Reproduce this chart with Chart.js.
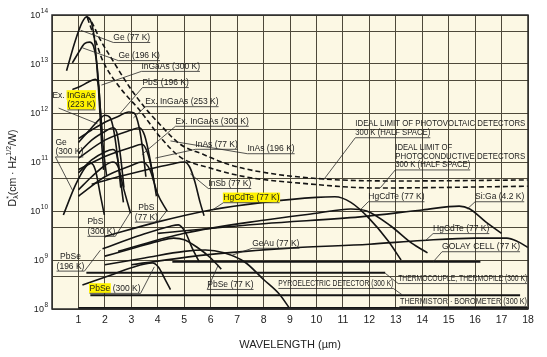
<!DOCTYPE html>
<html><head><meta charset="utf-8">
<script src="https://cdn.jsdelivr.net/npm/chart.js@4"></script>
<style>html,body{margin:0;padding:0;background:#fff}canvas{display:block}</style>
</head><body>
<canvas id="c" width="547" height="357"></canvas>
<script>
// ---- tick labels / grid ----
const wavelengthTicks = [0,1,2,3,4,5,6,7,8,9,10,11,12,13,14,15,16,17,18];
const decadeExponents = [8,9,10,11,12,13,14];
const gridValues = [1e8,4.5e8,1e9,4.5e9,1e10,4.5e10,1e11,4.5e11,1e12,4.5e12,1e13,4.5e13,1e14];

// ---- series: [wavelength µm, D* (cm·Hz^1/2/W)] ----
const idealPV = [[1.30,9.5e13],[1.45,7.9e13],[1.83,3.1e13],[2.29,1.2e13],[2.93,3.4e12],[3.49,1.33e12],[4.10,5.7e11],[4.85,2.3e11],[5.69,1.45e11],[6.63,9.1e10],[7.88,6.3e10],[10.26,4.5e10],[13.16,4.1e10],[18.0,4.3e10]];
const idealPC = [[1.34,8.7e13],[1.64,3.1e13],[1.91,1.2e13],[2.55,3.4e12],[3.31,1.15e12],[4.10,3.2e11],[4.85,1.26e11],[5.99,7.5e10],[7.39,4.9e10],[9.39,3.7e10],[12.30,2.95e10],[18.0,3.2e10]];
const ge77 = [[0.55,7.3e12],[0.89,3.1e13],[1.15,7.2e13],[1.30,9.1e13],[1.45,7.9e13],[1.61,3.1e13],[1.76,3.0e12],[1.87,2.8e11],[1.95,6.9e10]];
const ge196 = [[0.77,1.05e13],[1.0,1.7e13],[1.23,2.6e13],[1.42,2.8e13],[1.57,2.3e13],[1.72,7.6e12],[1.83,1.15e12],[1.95,1.7e11],[2.06,5.4e10]];
const ingaas300 = [[0.77,3.0e12],[1.08,3.5e12],[1.38,4.3e12],[1.64,4.9e12],[1.76,3.7e12],[1.83,1.15e12],[1.91,2.8e11]];
const pbs196 = [[1.0,3e11],[1.5,4.5e11],[2.0,6.5e11],[2.5,8.5e11],[2.9,1.05e12],[3.1,1.0e12],[3.3,5e11],[3.45,1.5e11],[3.55,5e10]];
const exInGaAs223 = [[1.0,2.5e11],[1.5,5e11],[1.8,7.5e11],[2.0,9e11],[2.2,8e11],[2.35,4e11],[2.5,1e11],[2.6,3e10]];
const exInGaAs253 = [[1.0,1.5e11],[1.5,2.8e11],[2.0,4.2e11],[2.3,5e11],[2.45,4e11],[2.6,1.2e11],[2.72,3e10]];
const exInGaAs300 = [[1.0,6e10],[1.5,1.1e11],[2.0,1.6e11],[2.3,1.8e11],[2.45,1.4e11],[2.6,4e10],[2.7,1.5e10]];
const ge300 = [[0.43,8.3e9],[0.89,3.4e10],[1.27,7.9e10],[1.45,9.6e10],[1.64,6.9e10],[1.83,2.1e10],[1.98,8.3e9]];
const pbs300 = [[1.0,2.7e10],[1.5,5e10],[2.0,8.5e10],[2.3,1e11],[2.5,8e10],[2.7,3e10],[2.97,9e9]];
const pbs77 = [[1.0,2e10],[2.0,5e10],[3.0,8.5e10],[3.4,1e11],[3.7,7e10],[4.0,2.2e10],[4.35,1e10]];
const inas77 = [[1.0,1.2e11],[2.0,2.8e11],[3.0,4.5e11],[3.3,5e11],[3.5,3.5e11],[3.7,1.2e11],[3.85,4e10]];
const inas196 = [[1.0,7e10],[2.0,1.3e11],[3.0,2e11],[3.4,2.3e11],[3.6,1.6e11],[3.8,6e10],[3.95,2e10]];
const insb77 = [[1.5,3.5e10],[2.5,5e10],[3.5,6.8e10],[4.5,9e10],[5.0,1e11],[5.2,8e10],[5.4,4e10],[5.6,1.5e10],[5.75,8e9]];
const hgcdte77a = [[2.0,3e9],[4.0,6e9],[6.0,1.05e10],[8.0,1.5e10],[10.0,1.9e10],[10.7,1.95e10],[11.3,1.5e10],[12.0,7e9],[12.7,2.5e9],[13.2,1e9]];
const hgcdte77b = [[2.5,1.5e9],[5.0,3.5e9],[8.0,6.5e9],[10.0,9e9],[11.3,1.1e10],[11.9,1e10],[12.8,5e9],[13.6,2.2e9],[14.2,1.4e9]];
const siga42 = [[4.0,3.5e9],[8.0,5.5e9],[11.65,7.6e9],[14.0,1.05e10],[15.4,1.26e10],[15.8,1.1e10],[16.4,6e9],[17.0,3.5e9]];
const hgcdte77c = [[3.0,8e8],[6.0,1.3e9],[9.0,1.75e9],[12.0,2.1e9],[14.0,2.5e9],[16.0,2.8e9],[17.2,2.8e9],[17.6,2.4e9],[18.0,1.8e9]];
const golay = [[4.55,9.2e8],[16.2,9.2e8]];
const thermocouple = [[1.3,5.5e8],[12.6,5.5e8]];
const pyroelectric = [[1.45,1.9e8],[17.7,1.9e8]];
const thermistor = [[1.0,1.03e8],[18.0,1.03e8]];
const pbse300 = [[1.15,3.1e8],[2.21,4.9e8],[2.97,6.9e8],[3.8,8.7e8],[4.02,7.2e8],[4.29,3.9e8],[4.48,2.5e8]];
const pbse196 = [[1.91,1.7e9],[3.34,3.2e9],[4.48,4.9e9],[4.78,5.2e9],[5.04,3.7e9],[5.31,1.7e9],[5.57,9.1e8]];
const pbse77 = [[2.0,1.2e9],[3.0,1.7e9],[4.0,2.4e9],[4.6,2.8e9],[5.0,2.6e9],[5.5,1.8e9],[6.0,1.1e9],[6.4,6.5e8]];
const geau77 = [[2.0,8e8],[3.5,1.1e9],[5.0,1.5e9],[5.8,1.6e9],[6.5,1.4e9],[7.3,9e8],[8.0,4e8],[8.6,2e8],[9.0,1e8]];

const seriesList = [
  {d:idealPV, dash:true},{d:idealPC, dash:true},
  {d:ge77},{d:ge196},{d:ingaas300},{d:pbs196},{d:exInGaAs223},{d:exInGaAs253},{d:exInGaAs300},
  {d:ge300},{d:pbs300},{d:pbs77},{d:inas77},{d:inas196},{d:insb77},
  {d:hgcdte77a},{d:hgcdte77b},{d:siga42},{d:hgcdte77c},
  {d:golay,w:2},{d:thermocouple,w:2},{d:pyroelectric,w:2},{d:thermistor,w:2.5},
  {d:pbse300},{d:pbse196},{d:pbse77},{d:geau77}
];

// ---- text annotations (anchor in wavelength / log10 D*) ----
const annotations = [
  {lines:['Ge (77 K)'], x:2.32, e:13.49, to:[1.08,13.69]},
  {lines:['Ge (196 K)'], x:2.51, e:13.12, to:[1.15,13.33]},
  {lines:['InGaAs (300 K)'], x:3.38, e:12.90, to:[1.87,12.57]},
  {lines:['PbS (196 K)'], x:3.42, e:12.57, to:[2.59,12.0]},
  {lines:['Ex. InGaAs (253 K)'], x:3.53, e:12.18, to:[3.08,11.90]},
  {lines:['Ex. InGaAs (300 K)'], x:4.67, e:11.78, to:[3.4,11.15]},
  {lines:['Ex. {InGaAs}','{(223 K)}'], x:1.64, e:12.31, align:'right', from:[0.25,12.10], to:[1.72,11.78]},
  {lines:['Ge','(300 K)'], x:0.13, e:11.35, to:[0.77,10.43]},
  {lines:['InAs (77 K)'], x:5.42, e:11.31, to:[3.91,11.08]},
  {lines:['InAs (196 K)'], x:7.39, e:11.22, to:[4.48,11.43]},
  {lines:['InSb (77 K)'], x:5.91, e:10.51, to:[5.23,10.76]},
  {lines:['{HgCdTe (77 K)}'], x:6.48, e:10.22, to:[6.06,10.02]},
  {lines:['HgCdTe (77 K)'], x:11.96, e:10.24, to:[11.69,10.04]},
  {lines:['Si:Ga (4.2 K)'], x:16.0, e:10.24, to:[15.70,10.04]},
  {lines:['HgCdTe (77 K)'], x:14.41, e:9.59, to:[14.11,9.39]},
  {lines:['GOLAY CELL (77 K)'], w:[78], x:14.75, e:9.22, to:[14.41,8.96]},
  {lines:['GeAu (77 K)'], x:7.57, e:9.29, to:[6.82,9.10]},
  {lines:['PbSe (77 K)'], x:5.87, e:8.45, to:[6.29,8.90]},
  {lines:['PYROELECTRIC DETECTOR (300 K)'], w:[115], x:8.56, e:8.47, side:'r', to:[13.24,8.29]},
  {lines:['THERMOCOUPLE, THERMOPILE (300 K)'], w:[129], x:13.09, e:8.57, to:[12.60,8.73]},
  {lines:['THERMISTOR \u00B7 BOROMETER (300 K)'], w:[127], x:13.16, e:8.10, to:[13.01,8.0]},
  {lines:['PbS','(300 K)'], x:1.34, e:9.73, side:'r', to:[2.97,9.98]},
  {lines:['PbS','(77 K)'], x:3.57, e:10.02, align:'center', side:'r', to:[4.36,10.02]},
  {lines:['PbSe','(196 K)'], x:0.70, e:9.02, align:'center', side:'r', to:[1.83,9.20]},
  {lines:['{PbSe} (300 K)'], x:1.42, e:8.37, side:'r', to:[3.87,8.86]},
  {lines:['IDEAL LIMIT OF PHOTOVOLTAIC DETECTORS','300 K (HALF SPACE)'], w:[170,75], lh:9, x:11.47, e:11.73, to:[10.26,10.63]},
  {lines:['IDEAL LIMIT OF','PHOTOCONDUCTIVE DETECTORS','300 K (HALF SPACE)'], w:[57,130,75], lh:8.6, x:12.98, e:11.24, to:[12.41,10.47]}
];

const FONT = '"Liberation Sans", Arial, sans-serif';

const datasets = seriesList.map(s => ({
  data: s.d.map(p => ({x:p[0], y:p[1]})),
  borderColor: '#141414',
  borderWidth: s.w || 1.6,
  borderDash: s.dash ? [5,3] : [],
  pointRadius: 0,
  fill: false,
  cubicInterpolationMode: 'monotone'
}));

const bgPlugin = {
  id:'bg',
  beforeDraw(chart){
    const {ctx, chartArea:a} = chart;
    ctx.save(); ctx.fillStyle='#fff'; ctx.fillRect(0,0,chart.width,chart.height);
    ctx.fillStyle='#fcf8e4'; ctx.fillRect(a.left,a.top,a.right-a.left,a.bottom-a.top); ctx.restore();
  }
};

function drawAnnotations(chart){
  const ctx = chart.ctx, xs = chart.scales.x, ys = chart.scales.y;
  const X = v => xs.getPixelForValue(v), Y = e => ys.getPixelForValue(Math.pow(10,e));
  ctx.save();
  annotations.forEach(a => {
    const fs = 8.5, lh = a.lh || 9.6;
    const x0 = X(a.x), y0 = Y(a.e);
    ctx.font = fs + 'px ' + FONT;
    let last = null;
    a.lines.forEach((ln, i) => {
      const parts = ln.split(/(\{[^}]*\})/).filter(s => s.length).map(s => s[0]==='{' ? {t:s.slice(1,-1), h:true} : {t:s, h:false});
      const nat = parts.reduce((acc,p)=>acc+ctx.measureText(p.t).width, 0);
      const sx = (a.w && a.w[i]) ? a.w[i]/nat : 1;
      const W = nat*sx;
      const al = a.align || 'left';
      const lx = al==='left' ? x0 : al==='right' ? x0-W : x0-W/2;
      const by = y0 + i*lh;
      let cx = lx;
      parts.forEach(p => {
        const pw = ctx.measureText(p.t).width*sx;
        if (p.h){ ctx.fillStyle='#fff200'; ctx.fillRect(cx-0.5, by-fs*0.9, pw+1, fs*1.15); }
        ctx.save(); ctx.translate(cx, by); ctx.scale(sx,1);
        ctx.fillStyle='#1c1c1c'; ctx.textBaseline='alphabetic'; ctx.textAlign='left';
        ctx.fillText(p.t, 0, 0); ctx.restore();
        cx += pw;
      });
      last = {l:lx, r:lx+W, y:by+2};
    });
    ctx.strokeStyle='#2a2a2a'; ctx.lineWidth=0.8;
    ctx.beginPath(); ctx.moveTo(last.l,last.y+0.5); ctx.lineTo(last.r,last.y+0.5); ctx.stroke();
    if (a.to){
      let sx0, sy0;
      if (a.from){ sx0 = X(a.from[0]); sy0 = Y(a.from[1]); }
      else { sx0 = a.side==='r' ? last.r : last.l; sy0 = last.y+0.5; }
      ctx.beginPath(); ctx.moveTo(sx0,sy0); ctx.lineTo(X(a.to[0]), Y(a.to[1])); ctx.stroke();
    }
  });
  ctx.restore();
}

const overlayPlugin = {
  id:'overlay',
  afterDraw(chart){
    const {ctx, chartArea:a} = chart;
    const ys = chart.scales.y;
    ctx.save();
    ctx.strokeStyle='#2b2b2b'; ctx.lineWidth=1.5;
    ctx.strokeRect(a.left, a.top, a.right-a.left, a.bottom-a.top);
    ctx.fillStyle='#222'; ctx.textBaseline='middle';
    decadeExponents.forEach(n => {
      const py = ys.getPixelForValue(Math.pow(10,n));
      ctx.font = '6.5px ' + FONT;
      const ew = ctx.measureText(String(n)).width;
      ctx.textAlign='right';
      ctx.fillText(String(n), a.left-4, py-3.5);
      ctx.font = '9px ' + FONT;
      ctx.fillText('10', a.left-4-ew-0.5, py+0.5);
    });
    ctx.save();
    ctx.translate(13, (a.top+a.bottom)/2 + 6);
    ctx.rotate(-Math.PI/2);
    const segs = [
      {t:'D', f:10.5, dy:0},{t:'*', f:7, dy:-4, keep:true},{t:'\u03BB', f:7, dy:3},
      {t:'(cm \u00B7 Hz', f:10.5, dy:0},{t:'1/2', f:7, dy:-4},{t:'/W)', f:10.5, dy:0}
    ];
    let tw = 0;
    segs.forEach(s => { ctx.font = s.f+'px '+FONT; s.w = ctx.measureText(s.t).width; if(!s.keep) tw += s.w; });
    let cx = -tw/2;
    ctx.textAlign='left'; ctx.textBaseline='middle'; ctx.fillStyle='#222';
    segs.forEach(s => { ctx.font = s.f+'px '+FONT; ctx.fillText(s.t, cx, s.dy); if(!s.keep) cx += s.w; });
    ctx.restore();
    ctx.font = '11px ' + FONT; ctx.textAlign='center'; ctx.textBaseline='middle'; ctx.fillStyle='#222';
    ctx.fillText('WAVELENGTH (\u00B5m)', (a.left+a.right)/2, 345);
    drawAnnotations(chart);
    ctx.restore();
  }
};

new Chart(document.getElementById('c'), {
  type:'line',
  data:{datasets},
  options:{
    responsive:false, animation:false, devicePixelRatio:1,
    layout:{padding:{top:15, right:19, left:0, bottom:0}},
    plugins:{legend:{display:false}, tooltip:{enabled:false}},
    scales:{
      x:{type:'linear', min:0, max:18,
        afterFit(s){ s.height = 48; },
        afterBuildTicks(s){ s.ticks = wavelengthTicks.map(v => ({value:v})); },
        ticks:{autoSkip:false, maxRotation:0, padding:5, color:'#222', font:{family:FONT, size:10.5},
          callback:v => v===0 ? '' : String(v)},
        grid:{drawTicks:false, color:'#4e493a', lineWidth:1},
        border:{display:false}},
      y:{type:'logarithmic', min:1e8, max:1e14,
        afterFit(s){ s.width = 52; },
        afterBuildTicks(s){ s.ticks = gridValues.map(v => ({value:v})); },
        ticks:{display:false},
        grid:{drawTicks:false, color:'#4e493a', lineWidth:1},
        border:{display:false}}
    }
  },
  plugins:[bgPlugin, overlayPlugin]
});
</script>
</body></html>
